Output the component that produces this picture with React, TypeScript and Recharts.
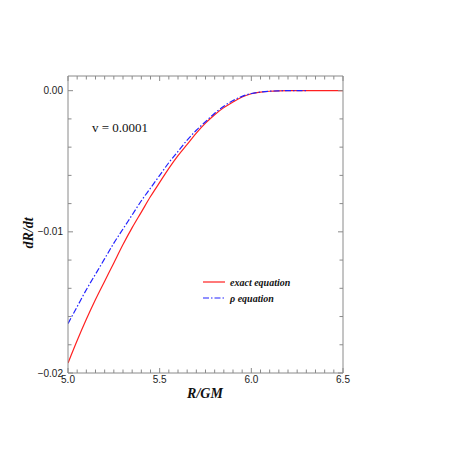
import { LineChart, Line, XAxis, YAxis, Label } from 'recharts';

// R/GM sample points
const rValues = [5.0, 5.05, 5.1, 5.15, 5.2, 5.25, 5.3, 5.35, 5.4, 5.45, 5.5, 5.55, 5.6, 5.65, 5.7, 5.75, 5.8, 5.85, 5.9, 5.95, 6.0, 6.05, 6.1, 6.15, 6.2, 6.3, 6.4, 6.5];

// dR/dt, exact equation
const exactValues = [-0.0193, -0.0177, -0.0162, -0.0148, -0.0135, -0.0122, -0.0109, -0.0097, -0.0086, -0.0075, -0.0065, -0.0055, -0.0046, -0.0038, -0.003, -0.0023, -0.0017, -0.0012, -0.0008, -0.00045, -0.00022, -0.0001, -0.00004, -0.00001, 0, 0, 0, 0];

// dR/dt, rho equation
const rhoValues = [-0.0165, -0.0153, -0.0141, -0.013, -0.0119, -0.0108, -0.0098, -0.0088, -0.0078, -0.0069, -0.006, -0.0051, -0.0043, -0.0035, -0.0028, -0.0022, -0.0016, -0.0011, -0.0007, -0.0004, -0.0002, -0.0001, -0.00004, -0.00001, 0, 0];

const xLabels = [5.0, 5.5, 6.0, 6.5];
const yLabels = [0, -0.01, -0.02];
const xTicks = Array.from({ length: 31 }, (_, i) => +(5 + i * 0.05).toFixed(2));
const yTicks = Array.from({ length: 11 }, (_, i) => +(-0.02 + i * 0.002).toFixed(3));

const exactData = rValues.map((r, i) => ({ r, v: exactValues[i] }));
const rhoData = rhoValues.map((v, i) => ({ r: rValues[i], v }));

const FRAME = '#8a8a8a';
const TICK_FONT = 'Liberation Sans, Arial, sans-serif';
const SERIF = 'Liberation Serif, Times New Roman, serif';

const isLabel = (val: number, list: number[]) => list.some((l) => Math.abs(l - val) < 1e-6);
const fmtY = (v: number) => (v === 0 ? '0.00' : '\u2212' + Math.abs(v).toFixed(2));

const BottomTick = (props: any) => {
  const { x, y, payload } = props;
  const lab = isLabel(payload.value, xLabels);
  return (
    <g>
      <line x1={x} y1={y} x2={x} y2={y - (lab ? 5 : 3.5)} stroke={FRAME} />
      {lab && (
        <text x={x} y={y + 10} textAnchor="middle" fontSize={10} fontFamily={TICK_FONT} fill="#222">
          {payload.value.toFixed(1)}
        </text>
      )}
    </g>
  );
};

const TopTick = (props: any) => {
  const { x, y, payload } = props;
  const lab = isLabel(payload.value, xLabels);
  return <line x1={x} y1={y} x2={x} y2={y + (lab ? 5 : 3.5)} stroke={FRAME} />;
};

const LeftTick = (props: any) => {
  const { x, y, payload } = props;
  const lab = isLabel(payload.value, yLabels);
  return (
    <g>
      <line x1={x} y1={y} x2={x + (lab ? 5 : 3.5)} y2={y} stroke={FRAME} />
      {lab && (
        <text x={x - 5} y={y + 3.5} textAnchor="end" fontSize={10} fontFamily={TICK_FONT} fill="#222">
          {fmtY(payload.value)}
        </text>
      )}
    </g>
  );
};

const RightTick = (props: any) => {
  const { x, y, payload } = props;
  const lab = isLabel(payload.value, yLabels);
  return <line x1={x} y1={y} x2={x - (lab ? 5 : 3.5)} y2={y} stroke={FRAME} />;
};

const Annotations = () => (
  <g>
    <text x={197} y={390} textAnchor="middle" fontSize={14} fontWeight="bold" fontStyle="italic" fontFamily={SERIF} fill="#111">
      R/GM
    </text>
    <text x={25} y={225} transform="rotate(-90 25 225)" textAnchor="middle" fontSize={14} fontWeight="bold" fontStyle="italic" fontFamily={SERIF} fill="#111">
      dR/dt
    </text>
    <text x={84} y={124} fontSize={13} fontFamily={SERIF} fill="#111">
      v = 0.0001
    </text>
    <line x1={195} y1={274} x2={217} y2={274} stroke="#ff2020" strokeWidth={1.2} />
    <text x={222} y={277.5} fontSize={10} fontWeight="bold" fontStyle="italic" fontFamily={SERIF} fill="#111">
      exact equation
    </text>
    <line x1={195} y1={290} x2={217} y2={290} stroke="#2222ff" strokeWidth={1.2} strokeDasharray="6 2 1.5 2" />
    <text x={222} y={293.5} fontSize={10} fontWeight="bold" fontStyle="italic" fontFamily={SERIF} fill="#111">
      {'\u03c1 equation'}
    </text>
  </g>
);

export default function App() {
  return (
    <LineChart width={442} height={442} margin={{ top: 63, right: 97, bottom: 47, left: 0 }}>
      <XAxis
        xAxisId="bottom"
        dataKey="r"
        type="number"
        domain={[5, 6.5]}
        ticks={xTicks}
        interval={0}
        height={30}
        tickSize={0}
        tickMargin={0}
        stroke={FRAME}
        tick={BottomTick}
        allowDataOverflow
      >
        <Label content={() => <Annotations />} />
      </XAxis>
      <XAxis
        xAxisId="top"
        orientation="top"
        dataKey="r"
        type="number"
        domain={[5, 6.5]}
        ticks={xTicks}
        interval={0}
        height={5}
        tickSize={0}
        tickMargin={0}
        stroke={FRAME}
        tick={TopTick}
        allowDataOverflow
      />
      <YAxis
        yAxisId="left"
        type="number"
        domain={[-0.02, 0.00104]}
        ticks={yTicks}
        interval={0}
        width={60}
        tickSize={0}
        tickMargin={0}
        stroke={FRAME}
        tick={LeftTick}
        allowDataOverflow
      />
      <YAxis
        yAxisId="right"
        orientation="right"
        type="number"
        domain={[-0.02, 0.00104]}
        ticks={yTicks}
        interval={0}
        width={10}
        tickSize={0}
        tickMargin={0}
        stroke={FRAME}
        tick={RightTick}
        allowDataOverflow
      />
      <Line
        xAxisId="bottom"
        yAxisId="left"
        data={exactData}
        dataKey="v"
        type="monotone"
        stroke="#ff2020"
        strokeWidth={1.2}
        dot={false}
        isAnimationActive={false}
      />
      <Line
        xAxisId="bottom"
        yAxisId="left"
        data={rhoData}
        dataKey="v"
        type="monotone"
        stroke="#2222ff"
        strokeWidth={1.2}
        strokeDasharray="6 2 1.5 2"
        dot={false}
        isAnimationActive={false}
      />
    </LineChart>
  );
}
